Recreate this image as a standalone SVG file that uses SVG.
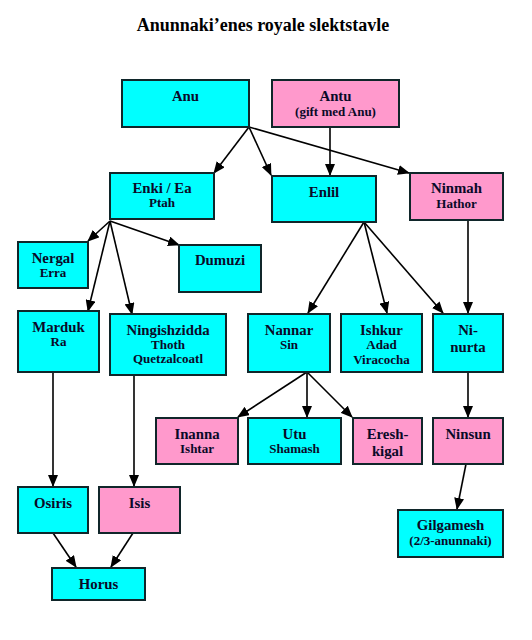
<svg xmlns="http://www.w3.org/2000/svg" width="532" height="640" viewBox="0 0 532 640">
<style>
.c{fill:#00FFFF;stroke:#10262a;stroke-width:2}
.p{fill:#FF99CC;stroke:#10262a;stroke-width:2}
text{font-family:"Liberation Serif","Times New Roman",serif;font-weight:bold;fill:#0a0a28;text-anchor:middle}
.n{font-size:14.8px}
.s{font-size:13px}
.t{font-size:18px;fill:#000}
.l{stroke:#000;stroke-width:1.6;fill:none}
.a{marker-end:url(#ah)}
</style>
<defs>
<marker id="ah" markerUnits="userSpaceOnUse" markerWidth="12" markerHeight="10" refX="11" refY="5" orient="auto">
<path d="M0,0 L12,5 L0,10 Z" fill="#000"/>
</marker>
</defs>
<text class="t" x="263" y="31">Anunnaki’enes royale slektstavle</text>
<g id="connectors">
<line class="l a" x1="249" y1="127" x2="214" y2="173"/>
<line class="l a" x1="249" y1="127" x2="271" y2="175"/>
<line class="l a" x1="249" y1="127" x2="409" y2="173"/>
<line class="l a" x1="330" y1="127" x2="330" y2="175"/>
<line class="l a" x1="110" y1="221" x2="88" y2="241"/>
<line class="l a" x1="110" y1="221" x2="179" y2="245"/>
<line class="l a" x1="110" y1="221" x2="88" y2="311"/>
<line class="l a" x1="110" y1="221" x2="132" y2="314"/>
<line class="l a" x1="364" y1="222" x2="308" y2="313"/>
<line class="l a" x1="364" y1="222" x2="387" y2="313"/>
<line class="l a" x1="364" y1="222" x2="443" y2="313"/>
<line class="l a" x1="468" y1="220" x2="468" y2="313"/>
<line class="l a" x1="307" y1="372" x2="238" y2="417"/>
<line class="l a" x1="307" y1="372" x2="307" y2="417"/>
<line class="l a" x1="307" y1="372" x2="352" y2="417"/>
<line class="l a" x1="468" y1="372" x2="468" y2="417"/>
<line class="l a" x1="466" y1="464" x2="457" y2="509"/>
<line class="l a" x1="53" y1="372" x2="53" y2="486"/>
<line class="l a" x1="134" y1="375" x2="134" y2="486"/>
<line class="l a" x1="53" y1="533" x2="76" y2="567"/>
<line class="l a" x1="133" y1="533" x2="111" y2="567"/>
</g>
<g id="anu"><rect class="c" x="122" y="80" width="127" height="47"/><text class="n" x="185.5" y="101">Anu</text></g>
<g id="antu"><rect class="p" x="272" y="80" width="127" height="47"/><text class="n" x="335.5" y="101">Antu</text><text class="s" x="335.5" y="116">(gift med Anu)</text></g>
<g id="enki"><rect class="c" x="110" y="173" width="104" height="46"/><text class="n" x="162" y="193">Enki / Ea</text><text class="s" x="162" y="207">Ptah</text></g>
<g id="enlil"><rect class="c" x="272" y="176" width="104" height="46"/><text class="n" x="324" y="197">Enlil</text></g>
<g id="ninmah"><rect class="p" x="410" y="173" width="93" height="47"/><text class="n" x="456.5" y="193">Ninmah</text><text class="s" x="456.5" y="208">Hathor</text></g>
<g id="nergal"><rect class="c" x="18" y="242" width="70" height="46"/><text class="n" x="53" y="263">Nergal</text><text class="s" x="53" y="277">Erra</text></g>
<g id="dumuzi"><rect class="c" x="179" y="245" width="82" height="47"/><text class="n" x="220" y="265">Dumuzi</text></g>
<g id="marduk"><rect class="c" x="18" y="311" width="81" height="61"/><text class="n" x="58.5" y="332">Marduk</text><text class="s" x="58.5" y="346">Ra</text></g>
<g id="ningishzidda"><rect class="c" x="110" y="314" width="116" height="61"/><text class="n" x="168" y="335">Ningishzidda</text><text class="s" x="168" y="349">Thoth</text><text class="s" x="168" y="363">Quetzalcoatl</text></g>
<g id="nannar"><rect class="c" x="248" y="314" width="82" height="58"/><text class="n" x="289" y="335">Nannar</text><text class="s" x="289" y="349">Sin</text></g>
<g id="ishkur"><rect class="c" x="341" y="314" width="81" height="58"/><text class="n" x="381.5" y="335">Ishkur</text><text class="s" x="381.5" y="349">Adad</text><text class="s" x="381.5" y="364">Viracocha</text></g>
<g id="ninurta"><rect class="c" x="433" y="314" width="70" height="58"/><text class="n" x="468" y="335">Ni-</text><text class="n" x="468" y="352">nurta</text></g>
<g id="inanna"><rect class="p" x="156" y="418" width="82" height="46"/><text class="n" x="197" y="439">Inanna</text><text class="s" x="197" y="453">Ishtar</text></g>
<g id="utu"><rect class="c" x="248" y="418" width="93" height="46"/><text class="n" x="294.5" y="439">Utu</text><text class="s" x="294.5" y="453">Shamash</text></g>
<g id="ereshkigal"><rect class="p" x="353" y="418" width="69" height="46"/><text class="n" x="387.5" y="439">Eresh-</text><text class="n" x="387.5" y="456">kigal</text></g>
<g id="ninsun"><rect class="p" x="433" y="418" width="70" height="46"/><text class="n" x="468" y="439">Ninsun</text></g>
<g id="osiris"><rect class="c" x="18" y="487" width="70" height="46"/><text class="n" x="53" y="508">Osiris</text></g>
<g id="isis"><rect class="p" x="99" y="487" width="81" height="46"/><text class="n" x="139.5" y="508">Isis</text></g>
<g id="horus"><rect class="c" x="52" y="568" width="93" height="32"/><text class="n" x="98.5" y="589">Horus</text></g>
<g id="gilgamesh"><rect class="c" x="398" y="510" width="105" height="47"/><text class="n" x="450.5" y="530">Gilgamesh</text><text class="s" x="450.5" y="545">(2/3-anunnaki)</text></g>
</svg>
